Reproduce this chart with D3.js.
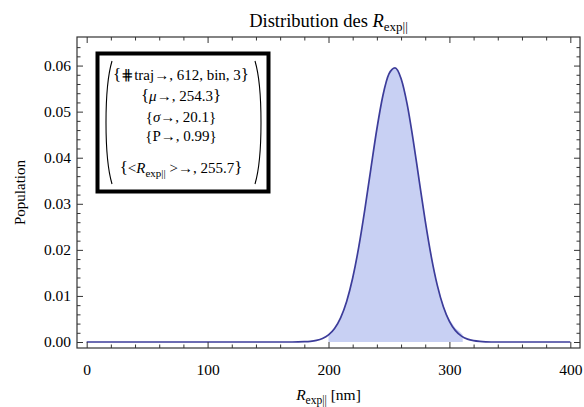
<!DOCTYPE html>
<html><head><meta charset="utf-8">
<script src="https://cdn.jsdelivr.net/npm/d3@7"></script>
<style>
body{margin:0;background:#fff}
text{font-family:"Liberation Serif","Times New Roman",serif;fill:#000}
</style></head>
<body><svg id="c" width="584" height="407"></svg>
<script>
// ---- data ----
const curveX = [0,100,150,170,175,180,185,190,195,200,205,210,215,220,225,230,235,240,245,250,255,260,265,270,275,280,285,290,295,300,305,310,315,320,325,330,340,350,400];
const curveY = [0,0,0,0.000005,0.00002,0.000064,0.000156,0.000357,0.000767,0.00155,0.00294,0.00525,0.0088,0.01389,0.02058,0.02867,0.03755,0.04623,0.0535,0.05819,0.0595,0.05719,0.05168,0.04389,0.03503,0.02629,0.01855,0.0123,0.00766,0.00449,0.00247,0.00128,0.00062,0.000285,0.000123,0.00005,0.000007,0,0];
const histX = [200,203,206,209,212,215,218,221,224,227,230,233,236,239,242,245,248,251,254,257,260,263,266,269,272,275,278,281,284,287,290,293,296,299,302,305,308,311];
const histPop = [0.0016,0.0023,0.0033,0.0047,0.0065,0.0088,0.0117,0.0151,0.0191,0.0237,0.0286,0.0339,0.0393,0.0446,0.0494,0.0535,0.0567,0.0587,0.0594,0.0589,0.0572,0.0542,0.0503,0.0456,0.0404,0.0350,0.0297,0.0247,0.0200,0.0160,0.0125,0.0096,0.0072,0.0054,0.0041,0.0030,0.0024,0.0016];
const xTicks = [0,100,200,300,400];
const xMinor = [20,40,60,80,120,140,160,180,220,240,260,280,320,340,360,380];
const yTicks = [0,0.01,0.02,0.03,0.04,0.05,0.06];
const yTickLabels = ["0.00","0.01","0.02","0.03","0.04","0.05","0.06"];
const yMinor = [0.002,0.004,0.006,0.008,0.012,0.014,0.016,0.018,0.022,0.024,0.026,0.028,0.032,0.034,0.036,0.038,0.042,0.044,0.046,0.048,0.052,0.054,0.056,0.058,0.062,0.064];
const nTraj = 612, binWidth = 3;
const statNames = ["μ","σ","P"];
const statValues = ["254.3","20.1","0.99"];
const meanR = "255.7";

// ---- chart ----
const svg = d3.select("#c");
const L=77,R=580,T=37,B=348;
const x = d3.scaleLinear().domain([-8,408]).range([L,R]);
const y = d3.scaleLinear().domain([-0.0013,0.0662]).range([B,T]);
const FONT = '"Liberation Serif","Times New Roman",serif';
const frameCol = "#333";

svg.append("path").datum(d3.zip(histX,histPop))
  .attr("d", d3.area().x(d=>x(d[0])).y0(y(0)).y1(d=>y(d[1])))
  .attr("fill","#c8d0f3");

svg.append("path").datum(d3.zip(curveX,curveY))
  .attr("d", d3.line().x(d=>x(d[0])).y(d=>y(d[1])).curve(d3.curveMonotoneX))
  .attr("fill","none").attr("stroke","#3c3c9a").attr("stroke-width",1.7);

function style(g){
  g.select(".domain").remove();
  g.selectAll("line").attr("stroke",frameCol).attr("stroke-width",1);
  g.selectAll("text").attr("font-family",FONT).attr("font-size",15.5).attr("fill","#000");
}
// bottom
svg.append("g").attr("transform",`translate(0,${B})`)
  .call(d3.axisBottom(x).tickValues(xTicks).tickSize(-6).tickPadding(16).tickFormat(d3.format("d"))).call(style);
svg.append("g").attr("transform",`translate(0,${B})`)
  .call(d3.axisBottom(x).tickValues(xMinor).tickSize(-3.5).tickFormat("")).call(style);
// top
svg.append("g").attr("transform",`translate(0,${T})`)
  .call(d3.axisTop(x).tickValues(xTicks).tickSize(-6).tickFormat("")).call(style);
svg.append("g").attr("transform",`translate(0,${T})`)
  .call(d3.axisTop(x).tickValues(xMinor).tickSize(-3.5).tickFormat("")).call(style);
// left
svg.append("g").attr("transform",`translate(${L},0)`)
  .call(d3.axisLeft(y).tickValues(yTicks).tickSize(-6).tickPadding(6).tickFormat((d,i)=>yTickLabels[i])).call(style);
svg.append("g").attr("transform",`translate(${L},0)`)
  .call(d3.axisLeft(y).tickValues(yMinor).tickSize(-3.5).tickFormat("")).call(style);
// right
svg.append("g").attr("transform",`translate(${R},0)`)
  .call(d3.axisRight(y).tickValues(yTicks).tickSize(-6).tickFormat("")).call(style);
svg.append("g").attr("transform",`translate(${R},0)`)
  .call(d3.axisRight(y).tickValues(yMinor).tickSize(-3.5).tickFormat("")).call(style);

// frame
svg.append("rect").attr("x",L).attr("y",T).attr("width",R-L).attr("height",B-T)
  .attr("fill","none").attr("stroke",frameCol).attr("stroke-width",1.2);

// title
const title = svg.append("text").attr("x",(L+R)/2).attr("y",27).attr("text-anchor","middle").attr("font-size",18.5);
title.append("tspan").text("Distribution des ");
title.append("tspan").attr("font-style","italic").text("R");
title.append("tspan").attr("font-size",13).attr("dy",4).text("exp||");

// x label
const xl = svg.append("text").attr("x",(L+R)/2).attr("y",400).attr("text-anchor","middle").attr("font-size",15.5);
xl.append("tspan").attr("font-style","italic").text("R");
xl.append("tspan").attr("font-size",11.5).attr("dy",4).text("exp||");
xl.append("tspan").attr("dy",-4).text("  [nm]");

// y label
svg.append("text").attr("transform",`translate(25,${(T+B)/2}) rotate(-90)`)
  .attr("text-anchor","middle").attr("font-size",15).text("Population");

// legend box
const lg = svg.append("g");
lg.append("rect").attr("x",97.5).attr("y",53.5).attr("width",171).attr("height",138)
  .attr("fill","#fff").attr("stroke","#000").attr("stroke-width",4);
lg.append("path").attr("d","M112,61 C104,88 104,157 112,184").attr("fill","none").attr("stroke","#000").attr("stroke-width",1.1);
lg.append("path").attr("d","M255,61 C263,88 263,157 255,184").attr("fill","none").attr("stroke","#000").attr("stroke-width",1.1);
const cx = 181, fs = 15;
function line(yb){ return lg.append("text").attr("x",cx).attr("y",yb).attr("text-anchor","middle").attr("font-size",fs); }
function brace(t,ch){ t.append("tspan").attr("font-size",17).text(ch); }
let t1 = line(80);
brace(t1,"{"); t1.append("tspan").text(`⋕traj→, ${nTraj}, bin, ${binWidth}`); brace(t1,"}");
let t2 = line(101);
brace(t2,"{"); t2.append("tspan").attr("font-style","italic").text(statNames[0]); t2.append("tspan").text(`→, ${statValues[0]}`); brace(t2,"}");
let t3 = line(122);
t3.append("tspan").text("{"); t3.append("tspan").attr("font-style","italic").text(statNames[1]); t3.append("tspan").text(`→, ${statValues[1]}}`);
let t4 = line(141);
t4.append("tspan").text(`{${statNames[2]}→, ${statValues[2]}}`);
let t5 = line(173);
brace(t5,"{"); t5.append("tspan").text("<"); t5.append("tspan").attr("font-style","italic").text("R");
t5.append("tspan").attr("font-size",11).attr("dy",4).text("exp||");
t5.append("tspan").attr("dy",-4).text(` >→, ${meanR}`); brace(t5,"}");
</script></body></html>
